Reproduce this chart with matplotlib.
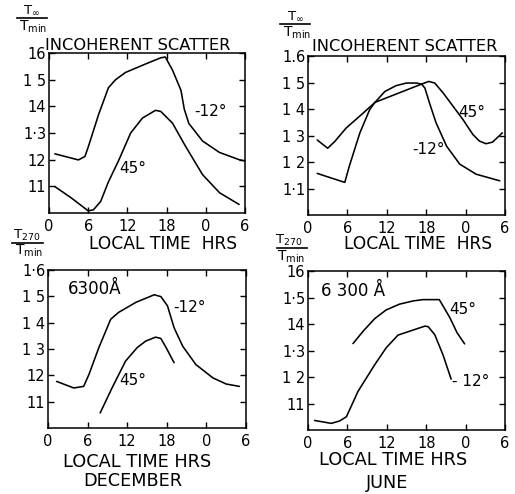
"""
Four-panel T/Tmin vs local time figure (incoherent scatter and 6300 A),
December on the left, June on the right.
"""

import matplotlib
matplotlib.use("Agg")
import matplotlib.pyplot as plt
from matplotlib.lines import Line2D

W, H = 515, 494

# --- data (hours run 0..30, i.e. 0..24..6) ---
hours_ticks = [0, 6, 12, 18, 24, 30]
hours_labels = ["0", "6", "12", "18", "0", "6"]
yticks = [1.1, 1.2, 1.3, 1.4, 1.5, 1.6]

# December, incoherent scatter
dec_is_m12_x = [0.9, 4.5, 5.5, 6.0, 7.6, 9.1, 10.2, 11.7, 14.8, 17.1, 17.8,
                18.9, 20.2, 20.7, 21.4, 23.5, 26.1, 29.1, 30.0]
dec_is_m12_y = [1.222, 1.199, 1.212, 1.247, 1.37, 1.47, 1.50, 1.527, 1.559,
                1.582, 1.585, 1.536, 1.46, 1.39, 1.336, 1.27, 1.227, 1.20, 1.195]
dec_is_45_x = [0.9, 3.5, 6.0, 6.8, 7.9, 9.1, 10.7, 12.5, 14.3, 16.3, 17.1,
               18.9, 20.9, 23.5, 26.1, 29.1]
dec_is_45_y = [1.099, 1.055, 1.008, 1.012, 1.043, 1.117, 1.199, 1.30, 1.356,
               1.385, 1.381, 1.337, 1.25, 1.144, 1.076, 1.032]

# June, incoherent scatter
jun_is_m12_x = [1.4, 5.6, 6.3, 7.9, 9.4, 10.2, 11.7, 13.4, 15.0, 16.5, 17.3,
                17.8, 18.5, 19.5, 21.1, 23.1, 25.6, 29.2]
jun_is_m12_y = [1.157, 1.123, 1.185, 1.31, 1.398, 1.425, 1.466, 1.488, 1.498,
                1.498, 1.494, 1.479, 1.423, 1.348, 1.26, 1.192, 1.154, 1.129]
jun_is_45_x = [1.4, 3.0, 4.1, 5.8, 8.1, 10.2, 13.9, 17.3, 18.4, 19.3, 20.6,
               22.1, 23.6, 25.1, 26.1, 27.1, 28.1, 29.6]
jun_is_45_y = [1.283, 1.252, 1.278, 1.328, 1.378, 1.425, 1.461, 1.494, 1.504,
               1.498, 1.46, 1.41, 1.36, 1.304, 1.279, 1.269, 1.275, 1.31]

# December, 6300 A
dec_oi_m12_x = [1.3, 3.9, 5.4, 6.2, 7.7, 9.5, 10.7, 13.3, 16.1, 17.1, 18.1,
                19.1, 20.4, 22.4, 25.0, 27.0, 29.0]
dec_oi_m12_y = [1.177, 1.152, 1.158, 1.203, 1.305, 1.413, 1.439, 1.477, 1.506,
                1.499, 1.464, 1.381, 1.311, 1.241, 1.19, 1.167, 1.158]
dec_oi_45_x = [7.9, 9.7, 11.75, 13.5, 14.8, 16.3, 17.1, 17.9, 19.1]
dec_oi_45_y = [1.057, 1.152, 1.254, 1.305, 1.33, 1.345, 1.34, 1.305, 1.248]

# June, 6300 A
jun_oi_45_x = [6.85, 8.4, 10.15, 11.9, 13.95, 16.0, 17.5, 20.0, 21.6, 22.7, 23.85]
jun_oi_45_y = [1.326, 1.373, 1.42, 1.453, 1.475, 1.487, 1.492, 1.492, 1.424,
               1.367, 1.325]
jun_oi_m12_x = [1.0, 3.55, 4.8, 5.85, 7.6, 10.15, 11.9, 13.7, 15.5, 17.8,
                18.3, 19.3, 20.55, 21.8]
jun_oi_m12_y = [1.036, 1.025, 1.034, 1.05, 1.145, 1.246, 1.31, 1.358, 1.373,
                1.392, 1.39, 1.36, 1.284, 1.192]

# y tick labels as printed (dots mostly lost in the print)
tl_ylabels = ["11", "12", "1·3", "14", "1 5", "16"]
tr_ylabels = ["1·1", "1 2", "1 3", "1 4", "1 5", "1.6"]
bl_ylabels = ["11", "12", "1 3", "1 4", "1 5", "1·6"]
br_ylabels = ["11", "1 2", "1·3", "14", "1·5", "16"]

LW = 1.15


def px(x, y):
    """pixel position in the original picture -> figure fraction"""
    return x / W, 1 - y / H


def make_axes(fig, left, top, right, bottom, ylabels):
    x0, y0 = px(left, bottom)
    ax = fig.add_axes([x0, y0, (right - left) / W, (bottom - top) / H])
    ax.set_xlim(0, 30)
    ax.set_ylim(1.0, 1.6)
    ax.set_xticks(hours_ticks)
    ax.set_xticklabels(hours_labels, fontsize=10.5)
    ax.set_yticks(yticks)
    ax.set_yticklabels(ylabels, fontsize=10.5)
    ax.tick_params(direction="in", length=4, width=1.0, top=True, right=True)
    ax.tick_params(axis="x", pad=4)
    ax.tick_params(axis="y", pad=2)
    for s in ax.spines.values():
        s.set_linewidth(1.1)
    return ax


def curve(ax, x, y):
    ax.plot(x, y, color="black", lw=LW, solid_joinstyle="round",
            solid_capstyle="round")


def frac_label(fig, cx, y_num, y_bar, y_den, x0, x1, num):
    fig.text(*px(cx, y_num), num, fontsize=9.5, ha="center", va="center")
    fig.add_artist(Line2D([x0 / W, x1 / W], [1 - y_bar / H] * 2,
                          color="black", lw=1.2))
    fig.text(*px(cx + 2, y_den), r"T$\mathregular{_{min}}$", fontsize=10,
             ha="center", va="center")


def main():
    fig = plt.figure(figsize=(W / 100, H / 100), dpi=100)

    # --- top left: December, incoherent scatter ---
    ax = make_axes(fig, 49, 53, 245, 213, tl_ylabels)
    curve(ax, dec_is_m12_x, dec_is_m12_y)
    curve(ax, dec_is_45_x, dec_is_45_y)
    ax.text(22.3, 1.38, "-12°", fontsize=11, va="center")
    ax.text(10.7, 1.168, "45°", fontsize=11, va="center")

    # --- top right: June, incoherent scatter ---
    ax = make_axes(fig, 308, 56, 505, 215, tr_ylabels)
    curve(ax, jun_is_m12_x, jun_is_m12_y)
    curve(ax, jun_is_45_x, jun_is_45_y)
    ax.text(25, 1.385, "45°", fontsize=11, ha="center", va="center")
    ax.text(18.3, 1.248, "-12°", fontsize=11, ha="center", va="center")

    # --- bottom left: December, 6300 A ---
    ax = make_axes(fig, 48, 270, 246, 428, bl_ylabels)
    curve(ax, dec_oi_m12_x, dec_oi_m12_y)
    curve(ax, dec_oi_45_x, dec_oi_45_y)
    ax.text(7.1, 1.527, "6300Å", fontsize=12, ha="center", va="center")
    ax.text(21.5, 1.458, "-12°", fontsize=11, ha="center", va="center")
    ax.text(12.8, 1.18, "45°", fontsize=11, ha="center", va="center")

    # --- bottom right: June, 6300 A ---
    ax = make_axes(fig, 308, 271, 505, 430, br_ylabels)
    curve(ax, jun_oi_45_x, jun_oi_45_y)
    curve(ax, jun_oi_m12_x, jun_oi_m12_y)
    ax.text(6.9, 1.525, "6 300 Å", fontsize=12, ha="center", va="center")
    ax.text(23.6, 1.455, "45°", fontsize=11, ha="center", va="center")
    ax.text(24.7, 1.183, "- 12°", fontsize=11, ha="center", va="center")

    # titles and axis captions
    fig.text(*px(138, 45.5), "INCOHERENT SCATTER", fontsize=11.7,
             ha="center", va="center")
    fig.text(*px(405, 46.5), "INCOHERENT SCATTER", fontsize=11.7,
             ha="center", va="center")
    fig.text(*px(163, 244), "LOCAL TIME  HRS", fontsize=12.3,
             ha="center", va="center")
    fig.text(*px(418, 244), "LOCAL TIME  HRS", fontsize=12.3,
             ha="center", va="center")
    fig.text(*px(137, 462), "LOCAL TIME HRS", fontsize=12.8,
             ha="center", va="center")
    fig.text(*px(393, 460), "LOCAL TIME HRS", fontsize=12.8,
             ha="center", va="center")
    fig.text(*px(133, 481), "DECEMBER", fontsize=12.7, ha="center", va="center")
    fig.text(*px(387, 483), "JUNE", fontsize=12.7, ha="center", va="center")

    # T/Tmin fraction labels
    frac_label(fig, 31, 10, 18, 27, 17, 47, r"T$_{\infty}$")
    frac_label(fig, 295, 16, 24, 33, 280, 310, r"T$_{\infty}$")
    frac_label(fig, 27, 235, 243, 251, 12, 43, r"T$_{270}$")
    frac_label(fig, 289, 240, 248, 257, 277, 307, r"T$_{270}$")

    fig.savefig("out.png", dpi=100)
    plt.close(fig)


if __name__ == "__main__":
    main()
